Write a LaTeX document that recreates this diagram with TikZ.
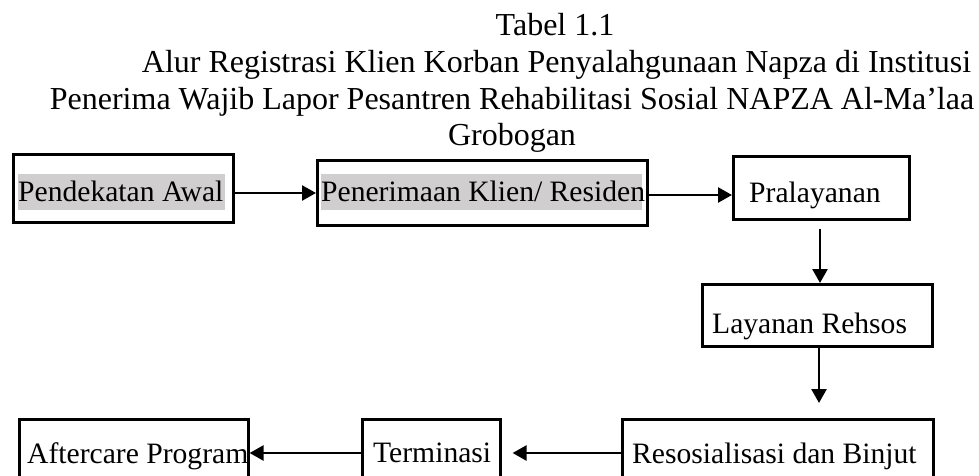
\documentclass[tikz,border=0pt]{standalone}
\usepackage{fontspec}
\setmainfont{Liberation Serif}
\usetikzlibrary{arrows.meta}
\definecolor{hlgrey}{RGB}{208,206,206}
\begin{document}
\begin{tikzpicture}[x=1pt,y=-1pt,
  box/.style={draw=black, line width=2.6pt, inner sep=0pt, anchor=north west},
  ttl/.style={inner sep=0pt, anchor=base, font=\fontsize{32}{37}\selectfont},
  lbl/.style={inner sep=0pt, anchor=base west, font=\fontsize{29.6}{34}\selectfont},
  hl/.style={fill=hlgrey},
  conn/.style={line width=2.6pt, -{Triangle[length=14pt,width=15pt]}}]
\useasboundingbox (0,0) rectangle (979,476);
\clip (0,0) rectangle (979,476);
% title
\node[ttl] (ti1) at (555,36) {Tabel 1.1};
\node[ttl] (ti2) at (556.5,73) {Alur Registrasi Klien Korban Penyalahgunaan Napza di Institusi};
\node[ttl] (ti3) at (512,110) {Penerima Wajib Lapor Pesantren Rehabilitasi Sosial NAPZA Al-Ma’laa};
\node[ttl] (ti4) at (512,146) {Grobogan};
% boxes
\node[box, minimum width=220pt, minimum height=68pt] (b1) at (12,153) {};
\node[box, minimum width=330pt, minimum height=65pt] (b2) at (316,159) {};
\node[box, minimum width=176pt, minimum height=63pt] (b3) at (732,155) {};
\node[box, minimum width=230pt, minimum height=62pt] (b4) at (701,283) {};
\node[box, minimum width=311pt, minimum height=80pt] (b5) at (621,418) {};
\node[box, minimum width=138pt, minimum height=80pt] (b6) at (361,418) {};
\node[box, minimum width=229pt, minimum height=80pt] (b7) at (18,418) {};
% highlights
\fill[hl] (18,174) rectangle (225,210);
\fill[hl] (321,174) rectangle (642,210);
% labels
\node[lbl] (t1) at (18,201) {Pendekatan Awal};
\node[lbl] (t2) at (321,201) {Penerimaan Klien/ Residen};
\node[lbl] (t3) at (749,202) {Pralayanan};
\node[lbl] (t4) at (712,333) {Layanan Rehsos};
\node[lbl] (t5) at (632,463) {Resosialisasi dan Binjut};
\node[lbl] (t6) at (373,462) {Terminasi};
\node[lbl] (t7) at (27,463) {Aftercare Program};
% connectors
\draw[conn] (b1.east |- 0,193) -- (b2.west |- 0,193);
\draw[conn] (b2.east |- 0,195) -- (b3.west |- 0,195);
\draw[conn, shorten <=8pt] (b3.south -| 820,0) -- (b4.north -| 820,0);
\draw[conn, shorten >=15pt] (b4.south -| 819,0) -- (b5.north -| 819,0);
\draw[conn, shorten >=11pt] (b5.west |- 0,453) -- (b6.east |- 0,453);
\draw[conn] (b6.west |- 0,453) -- (b7.east |- 0,453);
\end{tikzpicture}
\end{document}
